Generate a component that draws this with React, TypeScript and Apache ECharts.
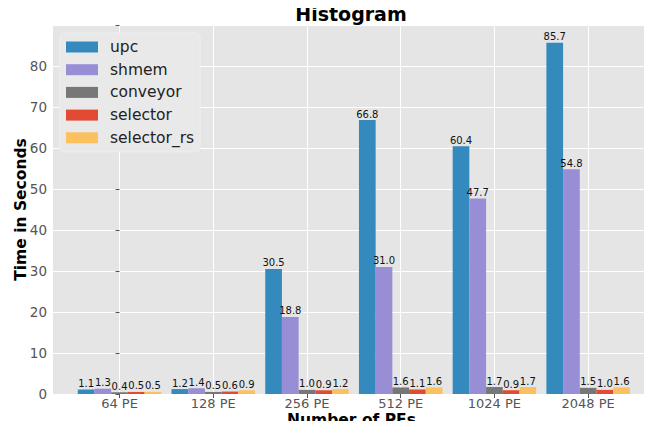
import React, { useEffect, useRef } from "react";
import * as echarts from "echarts";

const categories = ["64 PE", "128 PE", "256 PE", "512 PE", "1024 PE", "2048 PE"];
const seriesNames = ["upc", "shmem", "conveyor", "selector", "selector_rs"];
const upc = [1.1, 1.2, 30.5, 66.8, 60.4, 85.7];
const shmem = [1.3, 1.4, 18.8, 31.0, 47.7, 54.8];
const conveyor = [0.4, 0.5, 1.0, 1.6, 1.7, 1.5];
const selector = [0.5, 0.6, 0.9, 1.1, 0.9, 1.0];
const selectorRs = [0.5, 0.9, 1.2, 1.6, 1.7, 1.6];
const colors = ["#348ABD", "#988ED5", "#777777", "#E24A33", "#FBC15E"];
const yTicks = [0, 10, 20, 30, 40, 50, 60, 70, 80];

const FONT = "DejaVu Sans";

export default function App() {
  const ref = useRef<HTMLDivElement>(null);
  useEffect(() => {
    if (!ref.current) return;
    const chart = echarts.init(ref.current, null, { renderer: "svg" });
    const values = [upc, shmem, conveyor, selector, selectorRs];
    const idx = categories.map((_, i) => i);
    const series: any[] = values.map((vals, s) => ({
      name: seriesNames[s],
      type: "bar",
      barWidth: 16.7,
      barGap: "0%",
      itemStyle: { color: colors[s] },
      data: vals.map((v, i) => [i, v]),
      label: {
        show: true,
        position: "top",
        distance: 1,
        formatter: (p: any) => p.value[1].toFixed(1),
        fontFamily: FONT,
        fontSize: 10,
        color: "#111",
      },
      z: 2,
    }));
    chart.setOption({
      animation: false,
      backgroundColor: "#ffffff",
      title: {
        text: "Histogram",
        left: 351,
        textAlign: "center",
        top: 4,
        padding: 0,
        textStyle: { fontFamily: FONT, fontSize: 19, fontWeight: "bold", color: "#000" },
      },
      legend: {
        orient: "vertical",
        left: 60,
        top: 33,
        padding: [6, 6, 6, 6],
        itemWidth: 32,
        itemHeight: 11,
        itemGap: 6.7,
        backgroundColor: "#e9e9e9",
        borderColor: "#eeeeee",
        borderWidth: 1,
        borderRadius: 4,
        icon: "rect",
        data: seriesNames,
        textStyle: {
          fontFamily: FONT,
          fontSize: 15.5,
          lineHeight: 16,
          color: "#222",
          padding: [0, 0, 0, 7],
        },
      },
      grid: {
        left: 53,
        right: 2,
        top: 25,
        bottom: 35,
        show: true,
        backgroundColor: "#E5E5E5",
        borderWidth: 0,
        outerBoundsMode: "none",
        containLabel: false,
      },
      xAxis: {
        type: "value",
        min: -0.71,
        max: 5.66,
        name: "Number of PEs",
        nameLocation: "middle",
        nameGap: 18,
        nameMoveOverlap: false,
        nameTextStyle: {
          fontFamily: FONT,
          fontSize: 15.5,
          lineHeight: 15,
          fontWeight: "bold",
          color: "#000",
        },
        axisLine: { show: false },
        axisTick: { show: true, length: 4, lineStyle: { color: "#555" }, customValues: idx },
        axisLabel: {
          customValues: idx,
          formatter: (v: number) => categories[Math.round(v)] ?? "",
          fontFamily: FONT,
          fontSize: 13,
          lineHeight: 13,
          color: "#555",
          margin: 3,
        },
        splitLine: { show: true, lineStyle: { color: "#ffffff", width: 1 } },
      },
      yAxis: {
        type: "value",
        min: 0,
        max: 90,
        interval: 10,
        name: "Time in Seconds",
        nameLocation: "middle",
        nameGap: 24,
        nameMoveOverlap: false,
        nameTextStyle: { fontFamily: FONT, fontSize: 15.5, fontWeight: "bold", color: "#000" },
        axisLine: { show: false },
        axisTick: { show: true, length: 4, lineStyle: { color: "#555" } },
        axisLabel: {
          formatter: (v: number) => (yTicks.includes(v) ? String(v) : ""),
          fontFamily: FONT,
          fontSize: 13.5,
          color: "#555",
          margin: 6,
        },
        splitLine: { show: true, lineStyle: { color: "#ffffff", width: 1 } },
      },
      series,
    });
    return () => chart.dispose();
  }, []);
  return <div ref={ref} style={{ width: 652, height: 429, margin: -8 }} />;
}
